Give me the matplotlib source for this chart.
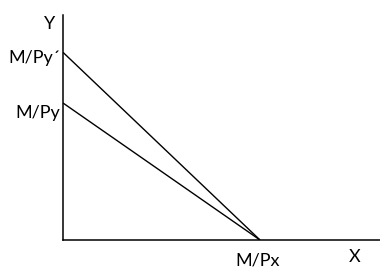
import matplotlib
matplotlib.use("Agg")
import matplotlib.pyplot as plt

# Budget line data
M = 12.0
Px = 4.0
Py_values = [4.0, 2.92]          # original Py, lower Py'
y_labels = ["M/Py", "M/Py\u00b4"]
x_label = "M/Px"
axis_names = ["X", "Y"]

x_int = M / Px
y_ints = [M / p for p in Py_values]

W, H, DPI = 380, 269, 100
fig = plt.figure(figsize=(W / DPI, H / DPI), dpi=DPI)
ox, oy = 63, 240          # origin in pixels (from top-left)
right, top = 380, 15
ax = fig.add_axes([ox / W, (H - oy) / H, (right - ox) / W, (oy - top) / H])

xmax = x_int * (right - ox) / (260 - ox)
ymax = y_ints[0] * (oy - top) / (oy - 103)
ax.set_xlim(0, xmax)
ax.set_ylim(0, ymax)

for yi in y_ints:
    ax.plot([0, x_int], [yi, 0], color="black", lw=1.0, solid_capstyle="butt")

for s in ["top", "right"]:
    ax.spines[s].set_visible(False)
for s in ["left", "bottom"]:
    ax.spines[s].set_color("black")
    ax.spines[s].set_linewidth(1.1)
ax.set_xticks([])
ax.set_yticks([])
ax.patch.set_alpha(0)

fs = 13
fam = ["Lato", "DejaVu Sans"]
ax.annotate(axis_names[1], xy=(0, ymax), xytext=(-8, -14), textcoords="offset pixels",
            ha="right", va="baseline", fontsize=fs, family=fam)
offs = [-15, -11]
for yi, lab, dy in zip(y_ints, y_labels, offs):
    ax.annotate(lab, xy=(0, yi), xytext=(-3, dy), textcoords="offset pixels",
                ha="right", va="baseline", fontsize=fs, family=fam)
ax.annotate(x_label, xy=(x_int, 0), xytext=(-2, -25), textcoords="offset pixels",
            ha="center", va="baseline", fontsize=fs, family=fam)
ax.annotate(axis_names[0], xy=(xmax, 0), xytext=(-25, -22), textcoords="offset pixels",
            ha="center", va="baseline", fontsize=fs, family=fam)

fig.savefig("out.png", dpi=DPI)
